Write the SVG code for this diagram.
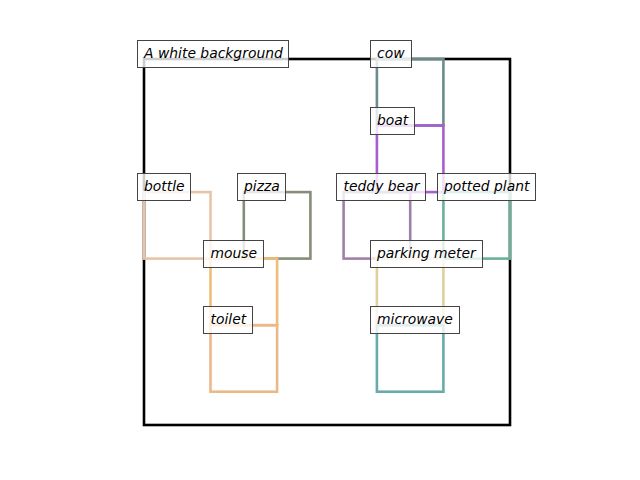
<svg xmlns="http://www.w3.org/2000/svg" width="640" height="480" viewBox="0 0 640 480">
<style>
.b{fill:none;stroke-width:2.6;stroke-linejoin:miter}
.lb{fill:#fff;fill-opacity:0.8;stroke:#444;stroke-width:1}
.t{font-family:"DejaVu Sans",sans-serif;font-style:italic;font-size:13.9px;fill:#000}
</style>
<rect width="640" height="480" fill="#fff"/>
<g id="connectors"></g>
<g id="boxes">
<rect id="bg-box" class="b" x="144" y="59" width="366" height="366" stroke="#000" stroke-width="2.2"/>
<rect id="cow-box" class="b" x="376.9" y="59" width="66.5" height="66.5" stroke="#6a8c8c"/>
<rect id="boat-box" class="b" x="376.9" y="125.5" width="66.5" height="66.6" stroke="#a65fd0"/>
<rect id="bottle-box" class="b" x="144" y="192.1" width="66.5" height="66.5" stroke="#e6c4aa"/>
<rect id="pizza-box" class="b" x="243.8" y="192.1" width="66.6" height="66.5" stroke="#858e78"/>
<rect id="teddy-box" class="b" x="343.6" y="192.1" width="66.6" height="66.5" stroke="#a080a8"/>
<rect id="plant-box" class="b" x="443.4" y="192.1" width="66.6" height="66.5" stroke="#6ab09a"/>
<rect id="mouse-box" class="b" x="210.5" y="258.6" width="66.6" height="66.6" stroke="#f0bc7c"/>
<rect id="meter-box" class="b" x="376.9" y="258.6" width="66.5" height="66.6" stroke="#e2cfa0"/>
<rect id="toilet-box" class="b" x="210.5" y="325.2" width="66.6" height="66.5" stroke="#ebb888"/>
<rect id="microwave-box" class="b" x="376.9" y="325.2" width="66.5" height="66.5" stroke="#68acaa"/>
</g>
<g id="node-bg"><rect class="lb" x="137.5" y="40.5" width="151" height="27"/><text class="t" x="144" y="58">A white background</text></g>
<g id="node-cow"><rect class="lb" x="370.5" y="40.5" width="41" height="27"/><text class="t" x="377" y="58">cow</text></g>
<g id="node-boat"><rect class="lb" x="370.5" y="107.5" width="44" height="27"/><text class="t" x="377" y="124.5">boat</text></g>
<g id="node-bottle"><rect class="lb" x="137.5" y="173.5" width="53" height="27"/><text class="t" x="144" y="191">bottle</text></g>
<g id="node-pizza"><rect class="lb" x="237.5" y="173.5" width="48" height="27"/><text class="t" x="244" y="191">pizza</text></g>
<g id="node-teddy"><rect class="lb" x="336.5" y="173.5" width="89" height="27"/><text class="t" x="343.5" y="191">teddy bear</text></g>
<g id="node-plant"><rect class="lb" x="437.5" y="173.5" width="98" height="27"/><text class="t" x="444" y="191">potted plant</text></g>
<g id="node-mouse"><rect class="lb" x="203.5" y="240.5" width="60" height="27"/><text class="t" x="210.5" y="257.5">mouse</text></g>
<g id="node-meter"><rect class="lb" x="370.5" y="240.5" width="112" height="27"/><text class="t" x="377" y="257.5">parking meter</text></g>
<g id="node-toilet"><rect class="lb" x="203.5" y="306.5" width="49" height="27"/><text class="t" x="210.5" y="324">toilet</text></g>
<g id="node-microwave"><rect class="lb" x="370.5" y="306.5" width="89" height="27"/><text class="t" x="377" y="324">microwave</text></g>
</svg>
